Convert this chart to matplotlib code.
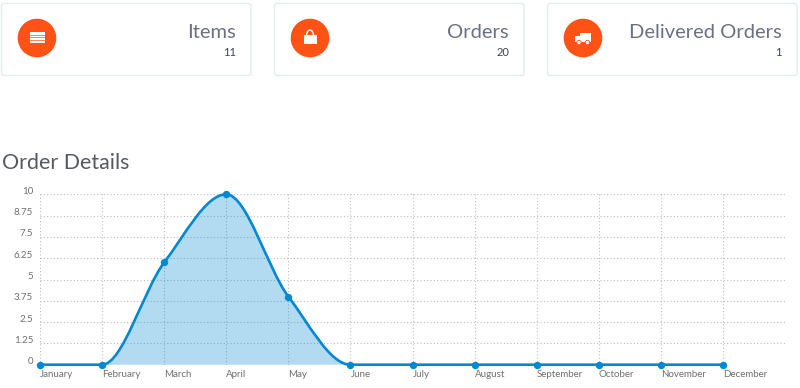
import matplotlib
matplotlib.use("Agg")
import matplotlib.pyplot as plt
import matplotlib.transforms as mtrans
from matplotlib.patches import Circle, FancyBboxPatch, PathPatch, Rectangle
from matplotlib.path import Path

W, H = 800, 388
plt.rcParams["font.family"] = ["Lato", "DejaVu Sans"]

months = ["January", "February", "March", "April", "May", "June", "July",
          "August", "September", "October", "November", "December"]
orders = [0, 0, 6, 10, 4, 0, 0, 0, 0, 0, 0, 0]
y_ticks = [0, 1.25, 2.5, 3.75, 5, 6.25, 7.5, 8.75, 10]
y_labels = ["0", "1.25", "2.5", "3.75", "5", "6.25", "7.5", "8.75", "10"]
card_titles = ["Items", "Orders", "Delivered Orders"]
card_values = ["11", "20", "1"]

ORANGE = "#ff5214"
BLUE = "#0288d1"
GRID = "#bdbdbd"
LABEL = "#6f6f6f"


def monotone_segments(ys):
    # bezier control points, same idea as the chart library's monotone cubic
    slopes = [b - a for a, b in zip(ys, ys[1:])]
    tang = [0.0] * len(ys)
    for i in range(1, len(ys) - 1):
        s0, s1 = slopes[i - 1], slopes[i]
        if s0 * s1 > 0:
            tang[i] = 2 * s0 * s1 / (s0 + s1)
    verts = [(0, ys[0])]
    codes = [Path.MOVETO]
    for i in range(len(ys) - 1):
        verts += [(i + 1 / 3, ys[i] + tang[i] / 3),
                  (i + 2 / 3, ys[i + 1] - tang[i + 1] / 3),
                  (i + 1, ys[i + 1])]
        codes += [Path.CURVE4] * 3
    return verts, codes


fig = plt.figure(figsize=(W / 100, H / 100), dpi=100)

# page layer in pixel coords for the cards and heading
page = fig.add_axes([0, 0, 1, 1])
page.set_xlim(0, W)
page.set_ylim(H, 0)
page.axis("off")

card_left = [1.5, 274.5, 547.5]
card_w = [249.5, 249.5, 249.5]
for left, width, title, value in zip(card_left, card_w, card_titles, card_values):
    page.add_patch(FancyBboxPatch((left + 2, 5.5), width - 4, 68,
                                  boxstyle="round,pad=2,rounding_size=2.5",
                                  fc="white", ec="#e6ebef", lw=1))
    page.add_patch(Circle((left + 35.5, 38), 19.3, fc=ORANGE, ec="none"))
    page.text(left + width - 15, 32.5, title, ha="right", va="center",
              fontsize=14.5, color="#6b7085")
    page.text(left + width - 15, 53, value, ha="right", va="center",
              fontsize=8, color="#3c4250")

# list icon
cx = 37
page.add_patch(Rectangle((cx - 7.5, 32), 15, 11, fc="white", ec="none"))
for yy in (34.5, 37, 39.5):
    page.plot([cx - 7.5, cx + 7.5], [yy, yy], color=ORANGE, lw=0.5)

# bag icon
cx = 310
page.add_patch(Rectangle((cx - 6.5, 35), 13, 9, fc="white", ec="none"))
page.add_patch(PathPatch(Path([(cx - 3.5, 36), (cx - 3.5, 28), (cx + 3.5, 28), (cx + 3.5, 36)],
                              [Path.MOVETO, Path.CURVE4, Path.CURVE4, Path.CURVE4]),
                         fc="none", ec="white", lw=1))

# truck icon
cx = 584
page.add_patch(Rectangle((cx - 4, 33), 11, 9, fc="white", ec="none"))
page.add_patch(Rectangle((cx - 9, 36), 4.5, 6, fc="white", ec="none"))
for wx in (cx - 5, cx + 3.5):
    page.add_patch(Circle((wx, 42.5), 2.2, fc="white", ec=ORANGE, lw=0.6))

page.text(2, 163, "Order Details", ha="left", va="center", fontsize=15.4, color="#555a60")

# chart axes, one slot per month
ax_l, ax_r, ax_t, ax_b = 40, 785, 194.3, 364.7
ax = fig.add_axes([ax_l / W, 1 - ax_b / H, (ax_r - ax_l) / W, (ax_b - ax_t) / H])
ax.set_xlim(0, len(months))
ax.set_ylim(0, 10)
ax.patch.set_alpha(0)
for sp in ax.spines.values():
    sp.set_visible(False)

ax.set_xticks(range(len(months)))
ax.set_xticklabels(months, ha="left", va="baseline", fontsize=7, color=LABEL)
ax.set_yticks(y_ticks)
ax.set_yticklabels(y_labels, fontsize=7, color=LABEL)
ax.tick_params(length=0)
ax.tick_params(axis="x", pad=9)
ax.tick_params(axis="y", pad=5)
shift_up = mtrans.ScaledTranslation(0, 4 / 100, fig.dpi_scale_trans)
for lab in ax.get_yticklabels():
    lab.set_transform(lab.get_transform() + shift_up)
ax.grid(True, color=GRID, linestyle=(0, (1, 2)), linewidth=0.8)
ax.set_axisbelow(True)

verts, codes = monotone_segments(orders)
area = Path(verts + [(len(orders) - 1, 0), (0, 0), (0, 0)],
            codes + [Path.LINETO, Path.LINETO, Path.CLOSEPOLY])
ax.add_patch(PathPatch(area, fc=BLUE, ec="none", alpha=0.3))
ax.add_patch(PathPatch(Path(verts, codes), fc="none", ec=BLUE, lw=1.9,
                       capstyle="round", clip_on=False))
ax.plot(range(len(orders)), orders, linestyle="none", marker="o", ms=5.3,
        color=BLUE, mec="none", clip_on=False, zorder=5)

fig.savefig("out.png", dpi=100)
